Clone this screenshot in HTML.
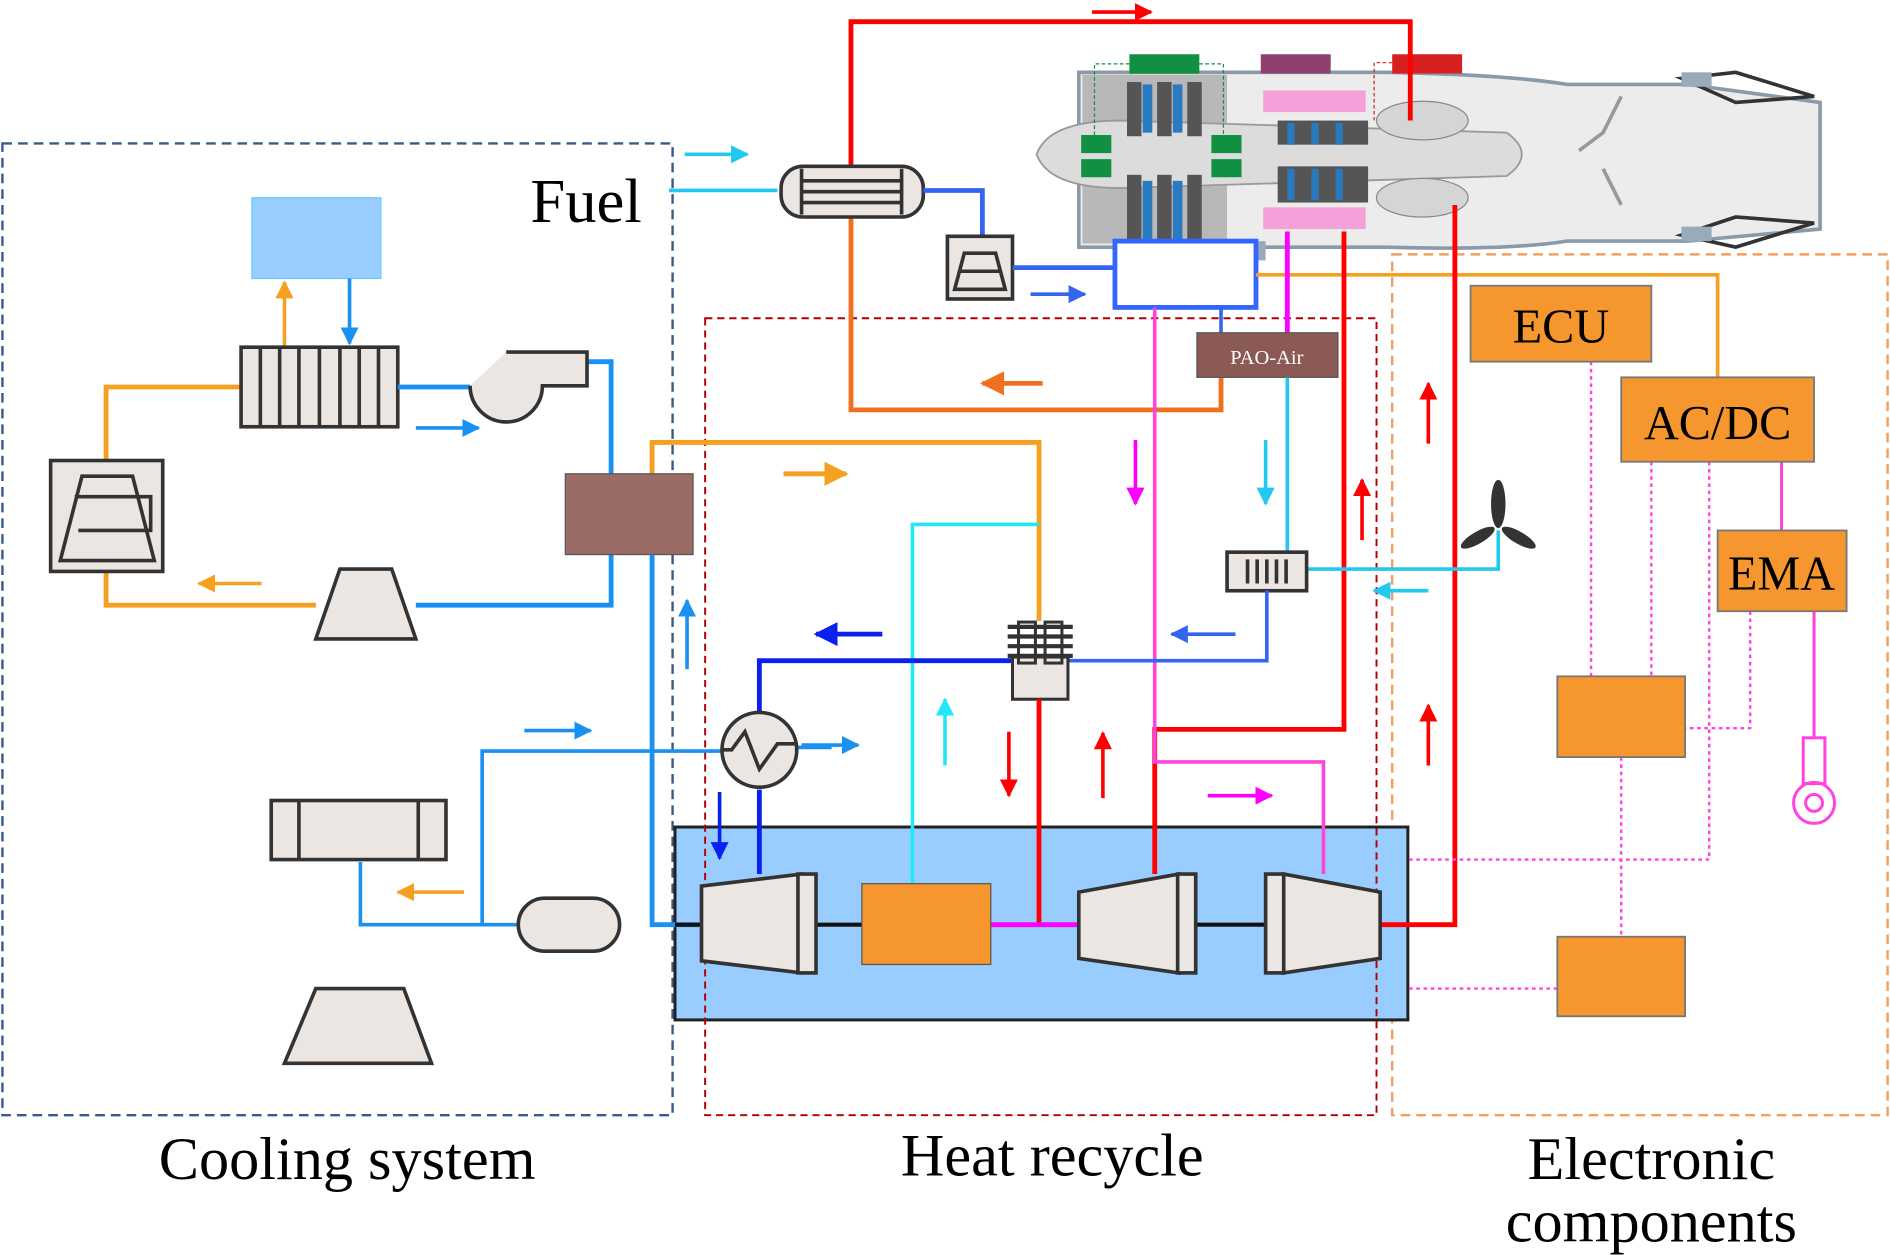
<!DOCTYPE html>
<html><head><meta charset="utf-8"><style>
html,body{margin:0;padding:0;background:#fff;}
svg{display:block;}
text{font-family:"Liberation Serif",serif;}
</style></head><body>
<svg width="1890" height="1255" viewBox="0 0 1568 1041" preserveAspectRatio="none" xmlns="http://www.w3.org/2000/svg">
<defs>
<marker id="a" viewBox="0 0 10 10" refX="9" refY="5" markerWidth="5" markerHeight="5" orient="auto-start-reverse"><path d="M0,0L10,5L0,10z" fill="context-stroke"/></marker>
</defs>
<rect x="2" y="119" width="556" height="806" fill="none" stroke="#3a5a8a" stroke-width="2" stroke-dasharray="8,5"/>
<rect x="1155" y="211" width="411" height="714" fill="none" stroke="#f0a060" stroke-width="2" stroke-dasharray="8,5"/>
<rect x="560" y="686" width="608" height="160" fill="#99ccff" stroke="#222" stroke-width="2.5"/>
<rect x="585" y="264" width="557" height="661" fill="none" stroke="#b00000" stroke-width="1.6" stroke-dasharray="6,4"/>

<g>
<path d="M895,60 L1150,60 Q1250,62 1300,70 L1400,70 L1510,85 L1510,190 L1400,200 L1300,200 Q1250,208 1150,205 L895,205 Z" fill="#ececec" stroke="#8a9aa8" stroke-width="3"/>
<rect x="898" y="62" width="120" height="140" fill="#b8b8b8"/>
<path d="M860,128 Q870,100 930,100 L1250,110 Q1275,128 1250,146 L930,156 Q870,156 860,128Z" fill="#dcdcdc" stroke="#999" stroke-width="1.5"/>
<g fill="#555">
<rect x="935" y="68" width="12" height="45"/><rect x="960" y="68" width="12" height="45"/><rect x="985" y="68" width="12" height="45"/>
<rect x="935" y="145" width="12" height="55"/><rect x="960" y="145" width="12" height="55"/><rect x="985" y="145" width="12" height="55"/>
</g>
<g fill="#2a7ac0"><rect x="948" y="70" width="8" height="40"/><rect x="973" y="70" width="8" height="40"/><rect x="948" y="150" width="8" height="50"/><rect x="973" y="150" width="8" height="50"/></g>
<g fill="#555"><rect x="1060" y="100" width="75" height="20"/><rect x="1060" y="138" width="75" height="30"/></g>
<g fill="#2a7ac0"><rect x="1068" y="102" width="6" height="18"/><rect x="1088" y="102" width="6" height="18"/><rect x="1108" y="102" width="6" height="18"/><rect x="1068" y="140" width="6" height="26"/><rect x="1088" y="140" width="6" height="26"/><rect x="1108" y="140" width="6" height="26"/></g>
<ellipse cx="1180" cy="100" rx="38" ry="16" fill="#d5d5d5" stroke="#888"/>
<ellipse cx="1180" cy="164" rx="38" ry="16" fill="#d5d5d5" stroke="#888"/>
<rect x="1048" y="75" width="85" height="18" fill="#f5a0d8"/>
<rect x="1048" y="172" width="85" height="18" fill="#f5a0d8"/>
<g fill="#109040"><rect x="897" y="112" width="25" height="15"/><rect x="897" y="132" width="25" height="15"/><rect x="1005" y="112" width="25" height="15"/><rect x="1005" y="132" width="25" height="15"/></g>
<rect x="937" y="45" width="58" height="16" fill="#109040"/>
<rect x="1046" y="45" width="58" height="16" fill="#904070"/>
<rect x="1155" y="45" width="58" height="16" fill="#d82020"/>
<path d="M908,112 V53 H937 M995,53 H1015 V112" fill="none" stroke="#109040" stroke-dasharray="3,2"/>
<path d="M1140,100 V52 H1155" fill="none" stroke="#d82020" stroke-dasharray="3,2"/>
<path d="M1395,65 L1440,60 L1505,80 L1440,85Z M1395,195 L1440,205 L1505,185 L1440,180Z" fill="none" stroke="#333" stroke-width="3"/>
<rect x="1395" y="60" width="25" height="12" fill="#9ab"/><rect x="1395" y="188" width="25" height="12" fill="#9ab"/>
<path d="M1310,125 L1330,110 L1345,80 M1330,140 L1345,170" stroke="#999" stroke-width="3" fill="none"/>
<rect x="1000" y="200" width="50" height="16" fill="#9ab"/>
</g>

<path d="M706,140 V18 H1170 V100" fill="none" stroke="#f00" stroke-width="4"/>
<line x1="906" y1="10" x2="955" y2="10" stroke="#f00" stroke-width="3" marker-end="url(#a)"/>
<line x1="555" y1="158" x2="645" y2="158" stroke="#22c8f0" stroke-width="3"/>
<line x1="568" y1="128" x2="620" y2="128" stroke="#22c8f0" stroke-width="3" marker-end="url(#a)"/>
<text x="440" y="184" font-size="52">Fuel</text>
<path d="M706,180 V340 H1013 V313" fill="none" stroke="#f07020" stroke-width="4"/>
<line x1="865" y1="318" x2="815" y2="318" stroke="#f07020" stroke-width="4" marker-end="url(#a)"/>
<rect x="648" y="138" width="118" height="42" rx="18" fill="#ebe6e2" stroke="#333" stroke-width="3"/>
<g stroke="#333" stroke-width="3"><line x1="665" y1="140" x2="665" y2="178"/><line x1="748" y1="140" x2="748" y2="178"/><line x1="665" y1="150" x2="748" y2="150"/><line x1="665" y1="159" x2="748" y2="159"/><line x1="665" y1="168" x2="748" y2="168"/></g>
<path d="M766,158 H815 V195" fill="none" stroke="#3366ee" stroke-width="4"/>
<rect x="786" y="196" width="54" height="52" fill="#ebe6e2" stroke="#333" stroke-width="3"/>
<path d="M792,240 L800,210 L826,210 L834,240 Z M795,225 H831" fill="none" stroke="#333" stroke-width="3"/>
<path d="M840,222 H925" fill="none" stroke="#3366ee" stroke-width="4"/>
<line x1="855" y1="244" x2="900" y2="244" stroke="#3366ee" stroke-width="3" marker-end="url(#a)"/>
<rect x="925" y="200" width="117" height="55" fill="#fff" stroke="#3366ff" stroke-width="4"/>
<path d="M1042,228 H1425 V313" fill="none" stroke="#f5a020" stroke-width="3"/>
<line x1="1068" y1="192" x2="1068" y2="276" stroke="#f0f" stroke-width="4"/>
<line x1="1013" y1="255" x2="1013" y2="276" stroke="#3366ee" stroke-width="3"/>
<rect x="993" y="276" width="117" height="37" fill="#8c5a55" stroke="#555"/>
<text x="1051" y="302" font-size="17" fill="#fff" text-anchor="middle" font-family="Liberation Sans,sans-serif">PAO-Air</text>
<path d="M1115,192 V605 H958 V725" fill="none" stroke="#f00" stroke-width="4"/>
<path d="M1207,170 V767 H1145" fill="none" stroke="#f00" stroke-width="4"/>
<line x1="1185" y1="368" x2="1185" y2="318" stroke="#f00" stroke-width="3" marker-end="url(#a)"/>
<line x1="1185" y1="635" x2="1185" y2="585" stroke="#f00" stroke-width="3" marker-end="url(#a)"/>
<line x1="1130" y1="448" x2="1130" y2="398" stroke="#f00" stroke-width="3" marker-end="url(#a)"/>
<path d="M958,255 V632 H1098 V725" fill="none" stroke="#ff44dd" stroke-width="3"/>
<line x1="942" y1="365" x2="942" y2="418" stroke="#f0f" stroke-width="3" marker-end="url(#a)"/>
<line x1="1002" y1="660" x2="1055" y2="660" stroke="#f0f" stroke-width="3" marker-end="url(#a)"/>
<path d="M1068,313 V458" fill="none" stroke="#22c8f0" stroke-width="3"/>
<line x1="1050" y1="365" x2="1050" y2="418" stroke="#22c8f0" stroke-width="3" marker-end="url(#a)"/>
<path d="M1085,472 H1243 V440" fill="none" stroke="#22c8f0" stroke-width="3"/>
<line x1="1185" y1="490" x2="1140" y2="490" stroke="#22c8f0" stroke-width="3" marker-end="url(#a)"/>
<g fill="#333"><ellipse cx="1243" cy="418" rx="6" ry="20"/><ellipse cx="1260" cy="446" rx="16" ry="5" transform="rotate(30 1260 446)"/><ellipse cx="1226" cy="446" rx="16" ry="5" transform="rotate(-30 1226 446)"/></g>
<rect x="1018" y="458" width="66" height="32" fill="#ebe6e2" stroke="#333" stroke-width="3"/>
<g stroke="#333" stroke-width="3"><line x1="1035" y1="464" x2="1035" y2="484"/><line x1="1043" y1="464" x2="1043" y2="484"/><line x1="1051" y1="464" x2="1051" y2="484"/><line x1="1059" y1="464" x2="1059" y2="484"/><line x1="1067" y1="464" x2="1067" y2="484"/></g>
<path d="M1051,490 V548 H885" fill="none" stroke="#3366ee" stroke-width="3"/>
<line x1="1025" y1="526" x2="972" y2="526" stroke="#3366ee" stroke-width="3" marker-end="url(#a)"/>
<path d="M541,393 V367 H862 V515" fill="none" stroke="#f5a020" stroke-width="4"/>
<line x1="650" y1="393" x2="702" y2="393" stroke="#f5a020" stroke-width="4" marker-end="url(#a)"/>
<path d="M862,435 H757 V733" fill="none" stroke="#22e8f5" stroke-width="3"/>
<line x1="784" y1="635" x2="784" y2="580" stroke="#22e8f5" stroke-width="3" marker-end="url(#a)"/>
<path d="M840,548 H630 V590 M630,655 V725" fill="none" stroke="#0a20ee" stroke-width="4"/>
<line x1="732" y1="526" x2="677" y2="526" stroke="#0a20ee" stroke-width="4" marker-end="url(#a)"/>
<line x1="597" y1="657" x2="597" y2="712" stroke="#0a20ee" stroke-width="3" marker-end="url(#a)"/>
<rect x="840" y="545" width="46" height="35" fill="#ebe6e2" stroke="#333" stroke-width="2.5"/>
<g stroke="#333" stroke-width="3.5"><line x1="836" y1="520" x2="890" y2="520"/><line x1="836" y1="528" x2="890" y2="528"/><line x1="836" y1="536" x2="890" y2="536"/><line x1="836" y1="544" x2="890" y2="544"/><rect x="845" y="516" width="14" height="34" fill="none" stroke-width="2.5"/><rect x="867" y="516" width="14" height="34" fill="none" stroke-width="2.5"/></g>
<line x1="862" y1="580" x2="862" y2="767" stroke="#f00" stroke-width="4"/>
<line x1="837" y1="607" x2="837" y2="660" stroke="#f00" stroke-width="3" marker-end="url(#a)"/>
<line x1="915" y1="662" x2="915" y2="608" stroke="#f00" stroke-width="3" marker-end="url(#a)"/>
<rect x="209" y="164" width="107" height="67" fill="#99ccff" stroke="#6cf"/>
<line x1="236" y1="288" x2="236" y2="234" stroke="#f5a020" stroke-width="3" marker-end="url(#a)"/>
<line x1="290" y1="231" x2="290" y2="285" stroke="#1a90f0" stroke-width="3" marker-end="url(#a)"/>
<path d="M200,321 H88 V385 M88,475 V502 H262" fill="none" stroke="#f5a020" stroke-width="4"/>
<rect x="200" y="288" width="130" height="66" fill="#ebe6e2" stroke="#333" stroke-width="3"/>
<g stroke="#333" stroke-width="3"><line x1="216" y1="288" x2="216" y2="354"/><line x1="232" y1="288" x2="232" y2="354"/><line x1="248" y1="288" x2="248" y2="354"/><line x1="265" y1="288" x2="265" y2="354"/><line x1="282" y1="288" x2="282" y2="354"/><line x1="298" y1="288" x2="298" y2="354"/><line x1="314" y1="288" x2="314" y2="354"/></g>
<path d="M330,321 H390 M487,300 H507 V393 M507,460 V502 H345" fill="none" stroke="#1a90f0" stroke-width="4"/>
<path d="M390,320 A30,30 0 1 0 450,320 L487,320 L487,292 L420,292" fill="#ebe6e2" stroke="#333" stroke-width="3"/>
<line x1="345" y1="355" x2="397" y2="355" stroke="#1a90f0" stroke-width="3" marker-end="url(#a)"/>
<rect x="42" y="382" width="93" height="92" fill="#ebe6e2" stroke="#333" stroke-width="3"/>
<path d="M50,465 L68,395 L110,395 L128,465 Z M62,412 H125 V440 H65" fill="none" stroke="#333" stroke-width="3"/>
<line x1="217" y1="484" x2="165" y2="484" stroke="#f5a020" stroke-width="3" marker-end="url(#a)"/>
<path d="M262,530 L282,472 L325,472 L345,530 Z" fill="#ebe6e2" stroke="#333" stroke-width="3"/>
<rect x="469" y="393" width="106" height="67" fill="#9b6b66" stroke="#555"/>
<path d="M541,460 V767 H580" fill="none" stroke="#1a90f0" stroke-width="4"/>
<line x1="570" y1="555" x2="570" y2="498" stroke="#1a90f0" stroke-width="3" marker-end="url(#a)"/>
<path d="M299,715 V767 H430 M400,767 V623 H600 M660,620 H690" fill="none" stroke="#1a90f0" stroke-width="3"/>
<line x1="435" y1="606" x2="490" y2="606" stroke="#1a90f0" stroke-width="3" marker-end="url(#a)"/>
<line x1="665" y1="618" x2="712" y2="618" stroke="#1a90f0" stroke-width="3" marker-end="url(#a)"/>
<line x1="385" y1="740" x2="330" y2="740" stroke="#f5a020" stroke-width="3" marker-end="url(#a)"/>
<circle cx="630" cy="622" r="31" fill="#ebe6e2" stroke="#333" stroke-width="3"/>
<path d="M600,622 H607 L618,607 L630,638 L645,617 H660" fill="none" stroke="#333" stroke-width="3"/>
<rect x="225" y="664" width="145" height="49" fill="#ebe6e2" stroke="#333" stroke-width="3"/>
<line x1="248" y1="664" x2="248" y2="713" stroke="#333" stroke-width="3"/><line x1="347" y1="664" x2="347" y2="713" stroke="#333" stroke-width="3"/>
<rect x="430" y="745" width="84" height="44" rx="22" fill="#ebe6e2" stroke="#333" stroke-width="3"/>
<path d="M236,882 L262,820 L335,820 L358,882 Z" fill="#ebe6e2" stroke="#333" stroke-width="3"/>
<line x1="560" y1="767" x2="1145" y2="767" stroke="#111" stroke-width="3.5"/>
<line x1="822" y1="767" x2="895" y2="767" stroke="#f0f" stroke-width="4"/>
<path d="M582,735 L665,725 L665,807 L582,797 Z" fill="#ebe6e2" stroke="#333" stroke-width="3"/><rect x="662" y="725" width="15" height="82" fill="#ebe6e2" stroke="#333" stroke-width="3"/>
<rect x="715" y="733" width="107" height="67" fill="#f5962e" stroke="#555"/>
<path d="M895,740 L978,725 L978,807 L895,795 Z" fill="#ebe6e2" stroke="#333" stroke-width="3"/><rect x="977" y="725" width="15" height="82" fill="#ebe6e2" stroke="#333" stroke-width="3"/>
<path d="M1065,725 L1145,740 L1145,795 L1065,807 Z" fill="#ebe6e2" stroke="#333" stroke-width="3"/><rect x="1050" y="725" width="15" height="82" fill="#ebe6e2" stroke="#333" stroke-width="3"/>
<g fill="none" stroke="#ff44dd" stroke-width="2" stroke-dasharray="3,3">
<path d="M1320,300 V561 M1370,383 V561 M1418,383 V713 H1168 M1452,507 V604 H1398 M1345,628 V777 M1292,820 H1168"/>
</g>
<line x1="1478" y1="383" x2="1478" y2="440" stroke="#ff44dd" stroke-width="2.5"/>
<line x1="1505" y1="507" x2="1505" y2="612" stroke="#ff44dd" stroke-width="2.5"/>
<rect x="1496" y="612" width="18" height="38" fill="none" stroke="#ff44dd" stroke-width="2.5"/>
<circle cx="1505" cy="666" r="17" fill="none" stroke="#ff44dd" stroke-width="2.5"/><circle cx="1505" cy="666" r="7" fill="none" stroke="#ff44dd" stroke-width="2.5"/>
<g fill="#f5962e" stroke="#777" stroke-width="1.5">
<rect x="1220" y="237" width="150" height="63"/><rect x="1345" y="313" width="160" height="70"/><rect x="1425" y="440" width="107" height="67"/>
<rect x="1292" y="561" width="106" height="67"/><rect x="1292" y="777" width="106" height="66"/>
</g>
<g font-size="40" text-anchor="middle" fill="#000">
<text x="1295" y="284">ECU</text><text x="1425" y="364">AC/DC</text><text x="1478" y="489">EMA</text>
</g>
<g font-size="50" text-anchor="middle" fill="#000">
<text x="288" y="978">Cooling system</text>
<text x="873" y="975">Heat recycle</text>
<text x="1370" y="978">Electronic</text>
<text x="1370" y="1030">components</text>
</g>
</svg>
</body></html>
